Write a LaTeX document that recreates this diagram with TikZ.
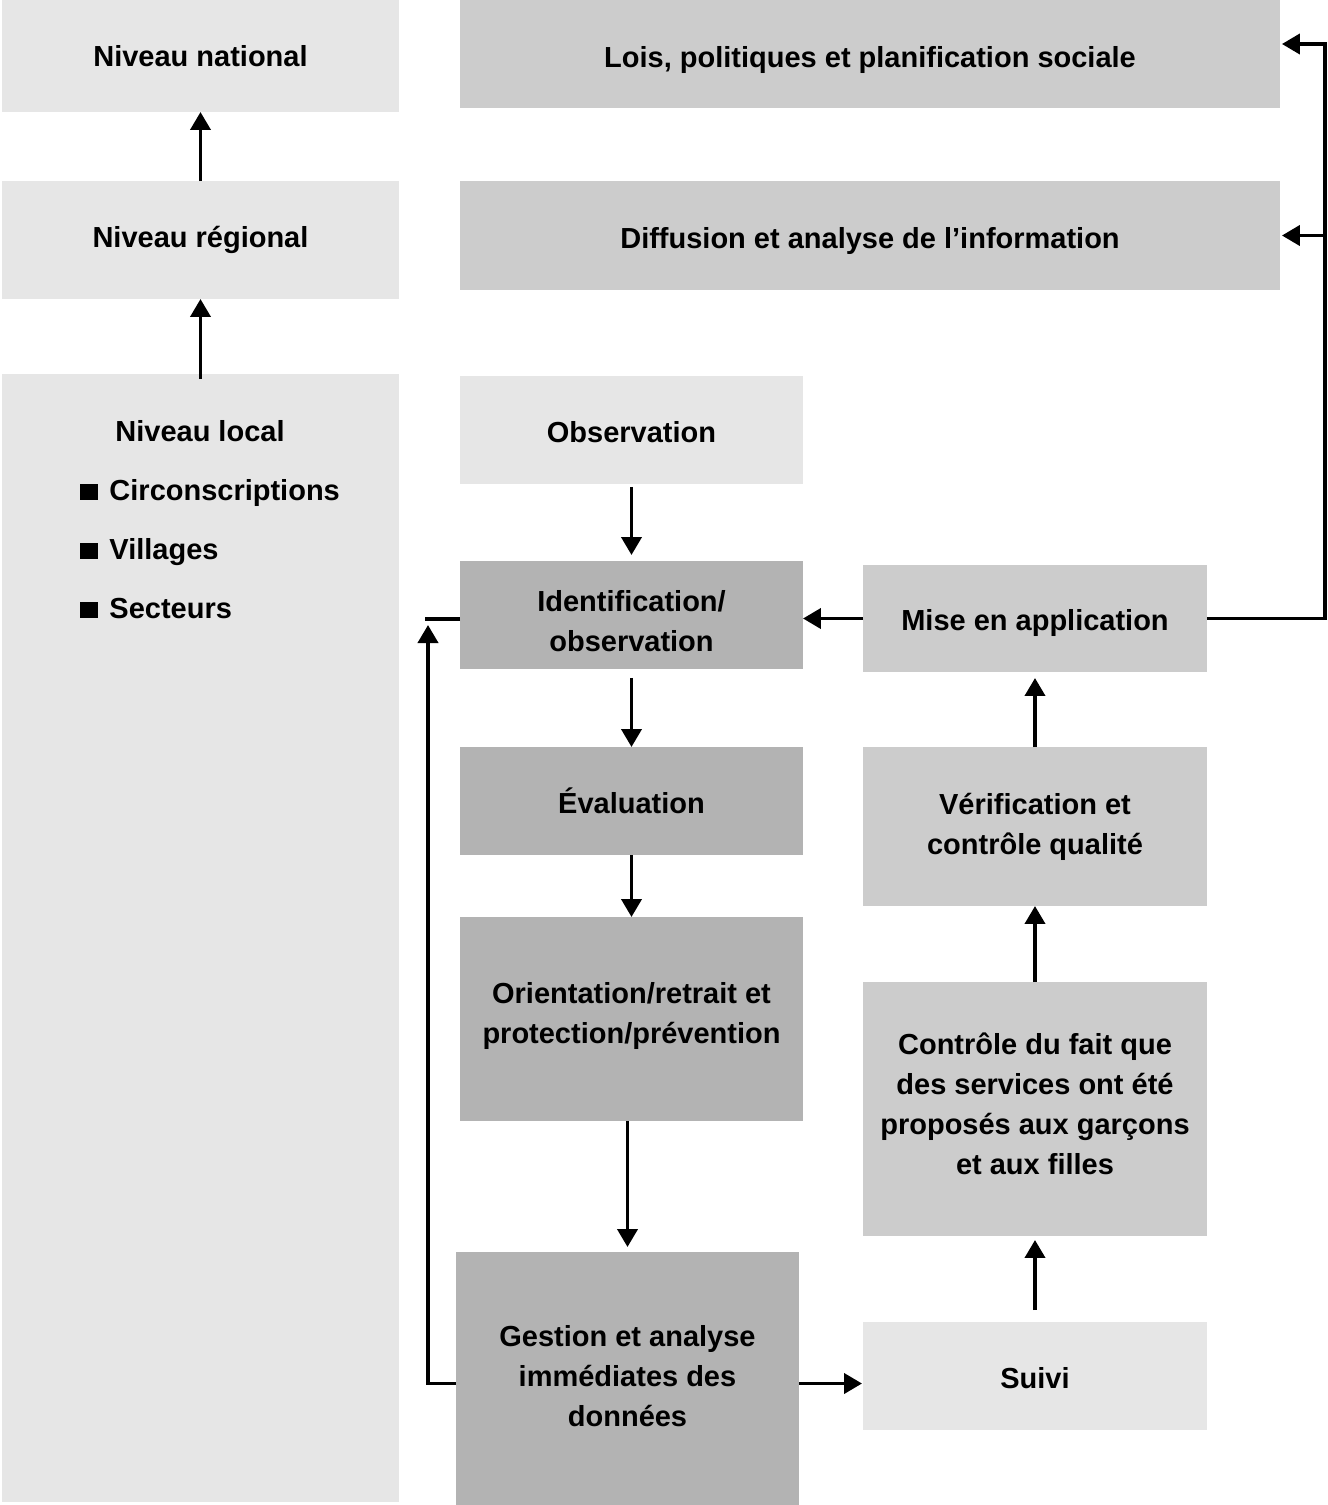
\documentclass[tikz,border=0pt]{standalone}
\usepackage{fontspec}
\setmainfont{Liberation Sans}
\usetikzlibrary{arrows.meta,positioning,calc}
\definecolor{boxlight}{HTML}{E6E6E6}
\definecolor{boxmid}{HTML}{CCCCCC}
\definecolor{boxdark}{HTML}{B3B3B3}
\tikzset{
  txt/.style={font=\fontsize{16.5pt}{22.7pt}\selectfont\bfseries, align=center, inner sep=0pt, outer sep=0pt},
  lbox/.style={txt, fill=boxlight},
  mbox/.style={txt, fill=boxmid},
  dbox/.style={txt, fill=boxdark},
  % nudge the text inside its box (strut on first / last line)
  tdown/.style={execute at begin node={\rule{0pt}{#1}}},
  tup/.style={execute at end node={\rule[-#1]{0pt}{#1}}},
  link/.style={line width=2.2pt},
  arr/.style={link, -{Triangle[length=0.36cm,width=0.4cm]}},
}
\begin{document}
\begin{tikzpicture}[x=0.02cm, y=-0.02cm]
  \useasboundingbox (0,0) rectangle (1328,1505);

  %% === Levels (left column) ===
  \node[lbox, minimum width=7.94cm, minimum height=2.24cm] (national) at (200.5,56) {Niveau national};
  \node[lbox, minimum width=7.94cm, minimum height=2.36cm] (regional) at (200.5,240) {Niveau régional};
  \node[lbox, minimum width=7.94cm, minimum height=22.56cm] (local) at (200.5,938) {};
  \node[txt] (localtitle) at (200,431) {Niveau local};
  % Sub-levels
  \foreach \name/\lbl/\y in {circ/Circonscriptions/500, vill/Villages/559, sect/Secteurs/618}
    \node[txt, anchor=base west] (\name) at (80,\y) {\rule{0.37cm}{0.33cm}\hspace{0.22cm}\lbl};

  %% === Policy boxes (top) ===
  \node[mbox, tdown=19pt, minimum width=16.4cm, minimum height=2.16cm] (lois) at (870,54) {Lois, politiques et planification sociale};
  \node[mbox, tdown=18.5pt, minimum width=16.4cm, minimum height=2.18cm] (diffusion) at (870,235.5) {Diffusion et analyse de l’information};

  %% === Middle column ===
  \node[lbox, tdown=14pt, minimum width=6.86cm, minimum height=2.16cm] (obs) at (631.5,430) {Observation};
  \node[dbox, minimum width=6.86cm, minimum height=2.16cm] (ident) at (631.5,615) {\rule{0pt}{18.5pt}Identification/\\observation};
  \node[dbox, minimum width=6.86cm, minimum height=2.16cm] (eval) at (631.5,801) {Évaluation};
  \node[dbox, tup=7pt, minimum width=6.86cm, minimum height=4.08cm] (orient) at (631.5,1019) {Orientation/retrait et\\protection/prévention};
  \node[dbox, tup=2.5pt, minimum width=6.86cm, minimum height=5.06cm] (gestion) at (627.5,1378.5) {Gestion et analyse\\immédiates des\\données};

  %% === Right column ===
  \node[mbox, tdown=17.5pt, minimum width=6.88cm, minimum height=2.14cm] (mise) at (1035,618.5) {Mise en application};
  \node[mbox, minimum width=6.88cm, minimum height=3.18cm] (verif) at (1035,826.5) {Vérification et\\contrôle qualité};
  \node[mbox, tup=6pt, minimum width=6.88cm, minimum height=5.08cm] (controle) at (1035,1109) {Contrôle du fait que\\des services ont été\\proposés aux garçons\\et aux filles};
  \node[lbox, tdown=14pt, minimum width=6.88cm, minimum height=2.16cm] (suivi) at (1035,1376) {Suivi};

  % Level arrows
  \draw[arr] (regional) -- (national);
  \draw[arr, shorten <=-0.1cm] (local) -- (regional);

  % Main chain
  \draw[arr, shorten <=0.06cm, shorten >=0.12cm] (obs) -- (ident);
  \draw[arr, shorten <=0.18cm] (ident) -- (eval);
  \draw[arr] (eval) -- (orient);
  \draw[arr, shorten >=0.1cm] (orient.south -| gestion.north) -- (gestion.north);
  \draw[arr, shorten >=0.02cm] ([yshift=-0.1cm]gestion.east) -- ([yshift=-0.1cm]gestion.east -| suivi.west);
  \draw[arr, shorten <=0.24cm, shorten >=0.08cm] (suivi) -- (controle);
  \draw[arr] (controle) -- (verif);
  \draw[arr, shorten >=0.12cm] (verif) -- (mise);
  \draw[arr] (mise.west) -- (mise.west -| ident.east);

  % Feedback to the top
  \coordinate (railtop) at (1325,44);
  \draw[arr, shorten >=0.04cm] (mise.east) -| (railtop) -- (railtop -| lois.east);
  \draw[arr, shorten >=0.04cm] (railtop |- diffusion.east) -- (diffusion.east);

  % Feedback to identification
  \coordinate (loopleft) at (428,619);
  \draw[arr, shorten >=0.12cm] ([yshift=-0.1cm]gestion.west) -| (loopleft);
  \draw[link] ([yshift=-0.08cm]ident.west) -- ++(-35,0);
\end{tikzpicture}
\end{document}
